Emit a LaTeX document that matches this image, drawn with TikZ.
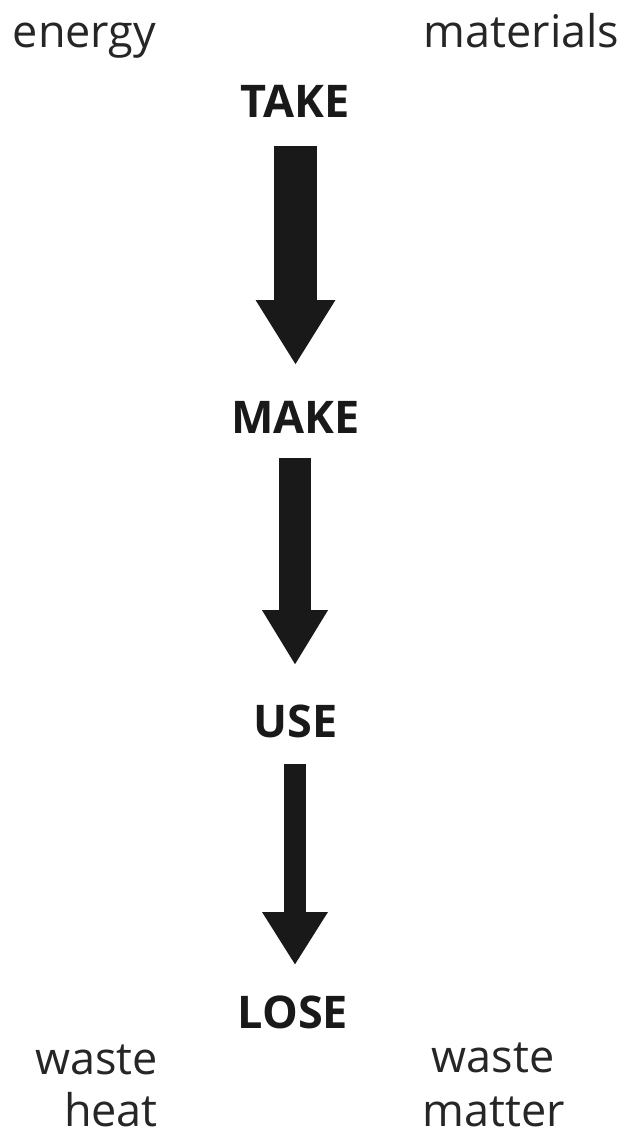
\documentclass[tikz,border=0pt]{standalone}
\usepackage{fontspec}
\setmainfont{Open Sans}
\usetikzlibrary{arrows.meta}
\tikzset{
  lbl/.style={anchor=base, inner sep=0pt, font=\fontsize{45}{54}\selectfont, text=black!85},
  stage/.style={anchor=base, inner sep=0pt, font=\fontsize{45}{54}\selectfont\bfseries, text=black!90},
  flow/.style={draw=black!90, line cap=butt}
}
\begin{document}
\begin{tikzpicture}[x=1pt,y=-1pt]
\useasboundingbox[fill=white] (0,0) rectangle (635,1132);
% top labels
\node[lbl] (energy) at (84.5,48) {energy};
\node[lbl] (materials) at (521.5,48) {materials};
% stages
\node[stage] (take) at (295,117) {TAKE};
\node[stage] (make) at (295.5,433) {MAKE};
\node[stage] (use) at (295.5,737) {USE};
\node[stage] (lose) at (293,1028) {LOSE};
% bottom labels
\node[lbl, anchor=base east] (waste1) at (158,1074) {waste};
\node[lbl, anchor=base east] (heat) at (158,1126) {heat};
\node[lbl] (waste2) at (493,1072) {waste};
\node[lbl] (matter) at (494,1126) {matter};
% arrow anchors
\coordinate (a1s) at (295.5,146);
\coordinate (a1e) at (295.5,365);
\coordinate (a2s) at (295,458);
\coordinate (a2e) at (295,665);
\coordinate (a3s) at (295,764);
\coordinate (a3e) at (295,965);
\draw[flow, line width=42.5pt, -{Triangle[length=65pt 0 0, width=75pt 0 0]}] (a1s) -- (a1e);
\draw[flow, line width=32pt, -{Triangle[length=55pt 0 0, width=62pt 0 0]}] (a2s) -- (a2e);
\draw[flow, line width=22pt, -{Triangle[length=53pt 0 0, width=62pt 0 0]}] (a3s) -- (a3e);
\end{tikzpicture}
\end{document}
